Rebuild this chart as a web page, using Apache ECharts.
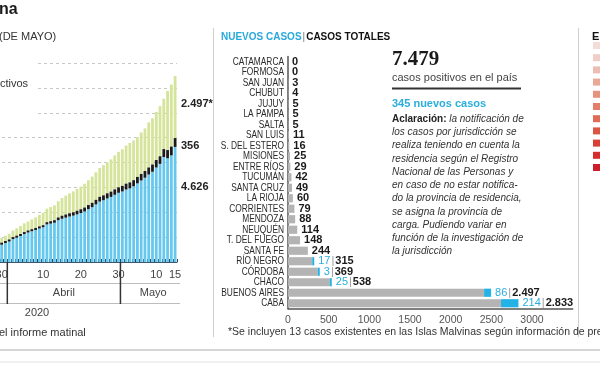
<!DOCTYPE html>
<html><head><meta charset="utf-8">
<script src="https://cdn.jsdelivr.net/npm/echarts@6/dist/echarts.min.js"></script>
<style>html,body{margin:0;padding:0;background:#fff;overflow:hidden}#c{width:600px;height:365px}</style>
</head><body><div id="c"></div>
<script>
// ---- Serie temporal (29/03 - 15/05/2020) ----
const dias = ['29/03','30/03','31/03','01/04','02/04','03/04','04/04','05/04','06/04','07/04','08/04','09/04','10/04','11/04','12/04','13/04','14/04','15/04','16/04','17/04','18/04','19/04','20/04','21/04','22/04','23/04','24/04','25/04','26/04','27/04','28/04','29/04','30/04','01/05','02/05','03/05','04/05','05/05','06/05','07/05','08/05','09/05','10/05','11/05','12/05','13/05','14/05','15/05'];
const activos = [577,696,763,824,921,977,1046,1122,1184,1237,1288,1348,1397,1510,1543,1578,1679,1738,1781,1828,1864,1913,1968,2031,2125,2204,2315,2428,2483,2553,2616,2702,2782,2835,2913,2960,3044,3160,3276,3387,3518,3627,3800,3945,4221,4171,4287,4626];
const fallecidos = [23,24,27,36,39,43,44,48,56,63,72,82,83,90,97,102,111,122,129,132,136,147,152,159,165,176,185,192,197,207,214,218,218,225,237,240,246,260,264,273,282,293,300,305,319,329,353,356];
const recuperados = [220,246,264,273,305,333,361,384,388,415,435,464,495,542,568,597,653,711,759,798,839,881,911,954,998,1055,1107,1160,1212,1243,1297,1365,1428,1472,1531,1583,1597,1600,1668,1711,1811,1856,1934,2015,2023,2379,2494,2497];
const diasEtiqueta = ['30/03','10/04','20/04','30/04','10/05','15/05'];
const meses = ['Abril','Mayo'];

// ---- Casos por jurisdicción ----
const provincias = ['CATAMARCA','FORMOSA','SAN JUAN','CHUBUT','JUJUY','LA PAMPA','SALTA','SAN LUIS','S. DEL ESTERO','MISIONES','ENTRE RÍOS','TUCUMÁN','SANTA CRUZ','LA RIOJA','CORRIENTES','MENDOZA','NEUQUÉN','T. DEL FUEGO','SANTA FE','RÍO NEGRO','CÓRDOBA','CHACO','BUENOS AIRES','CABA'];
const totales = [0,0,3,4,5,5,5,11,16,25,29,42,49,60,79,88,114,148,244,315,369,538,2497,2833];
const nuevos = [0,0,0,0,0,0,0,0,0,0,0,0,0,0,0,0,0,0,0,17,3,25,86,214];
const ejeCasos = [0,500,1000,1500,2000,2500,3000];

const fmt = n => String(n).replace(/\B(?=(\d{3})+(?!\d))/g, '.');
const SANS = '"Liberation Sans",Arial,sans-serif';
const BLUE1 = '#67c8ef', GREEN = '#d5e49b', BLK = '#1b1b1b';
const CYAN = '#22b2e6', GRAY = '#b4b4b4';

const chart = echarts.init(document.getElementById('c'), null, {renderer:'canvas'});

const baseProv = totales.map((t,i)=>t-nuevos[i]);

chart.setOption({
  animation:false,
  grid:[
    {left:-4, top:63, width:181, height:199, containLabel:false, outerBoundsMode:'none'},
    {left:288, top:56.5, width:284.7, height:252, containLabel:false, outerBoundsMode:'none'}
  ],
  xAxis:[
    {type:'category', gridIndex:0, data:dias, boundaryGap:true,
     axisLine:{show:true, lineStyle:{color:'#3d5770', width:1}},
     axisTick:{show:true, interval:0, inside:true, length:3, lineStyle:{color:'#2b3f55', width:1}},
     axisLabel:{interval:(i,v)=>diasEtiqueta.indexOf(v)>=0, formatter:v=>String(parseInt(v.split('/')[0],10)),
       color:'#444', fontSize:11, fontFamily:SANS, margin:7}},
    {type:'value', gridIndex:1, min:0, max:3500, interval:500,
     axisLine:{show:true, onZero:false, lineStyle:{color:'#555', width:1.5}},
     axisTick:{show:false}, splitLine:{show:false},
     axisLabel:{color:'#555', fontSize:10.5, fontFamily:SANS, margin:6,
       formatter:v=>ejeCasos.indexOf(v)>=0?String(v):''}}
  ],
  yAxis:[
    {type:'value', gridIndex:0, min:0, max:8000, interval:1000, axisLine:{show:false}, axisTick:{show:false},
     axisLabel:{show:false}, splitLine:{show:true, lineStyle:{color:'#c8c8c8', type:[3,3], width:1}}},
    {type:'category', gridIndex:1, data:provincias, inverse:true,
     axisLine:{show:true, lineStyle:{color:'#555', width:1.5}}, axisTick:{show:false},
     axisLabel:{show:false}}
  ],
  series:[
    {name:'Activos', type:'bar', stack:'ev', xAxisIndex:0, yAxisIndex:0, data:activos,
     itemStyle:{color:BLUE1}, barCategoryGap:'26%'},
    {name:'Fallecidos', type:'bar', stack:'ev', xAxisIndex:0, yAxisIndex:0, data:fallecidos,
     itemStyle:{color:BLK}, barMinHeight:2, z:4},
    {name:'Recuperados', type:'bar', stack:'ev', xAxisIndex:0, yAxisIndex:0, data:recuperados,
     itemStyle:{color:GREEN}},
    {name:'Base', type:'bar', stack:'pr', xAxisIndex:1, yAxisIndex:1, data:baseProv,
     itemStyle:{color:GRAY}, barCategoryGap:'22%',
     label:{show:true, position:'right', distance:4,
       formatter:p=>nuevos[p.dataIndex]>0?'':fmt(totales[p.dataIndex]),
       color:'#1a1a1a', fontWeight:'bold', fontSize:11, fontFamily:SANS}},
    {name:'Nuevos', type:'bar', stack:'pr', xAxisIndex:1, yAxisIndex:1,
     data:nuevos.map(v=>v>0?v:'-'), barMinHeight:2,
     itemStyle:{color:CYAN},
     label:{show:true, position:'right', distance:4,
       formatter:p=>'{n|'+nuevos[p.dataIndex]+'}{s||}{t|'+fmt(totales[p.dataIndex])+'}',
       rich:{n:{color:'#28aee0', fontSize:11, fontFamily:SANS},
             s:{color:'#999', fontSize:11, fontFamily:SANS, padding:[0,1,0,1]},
             t:{color:'#1a1a1a', fontWeight:'bold', fontSize:11, fontFamily:SANS}}}}
  ]
});

function T(x,y,text,font,fill,align,valign,extra,tr){
  const st = Object.assign({x:0,y:0,text:text,font:font,fill:fill,
    textAlign:align||'left', align:align||'left',
    textVerticalAlign:valign||'middle', verticalAlign:valign||'middle'}, extra||{});
  return Object.assign({type:'text', z:50, x:x, y:y, style:st, silent:true}, tr||{});
}
function L(x1,y1,x2,y2,color,w){
  return {type:'line', z:40, shape:{x1:x1,y1:y1,x2:x2,y2:y2}, style:{stroke:color, lineWidth:w||1}, silent:true};
}
const num = r => Array.isArray(r) ? r[0] : r;

// positions through the scales (category index)
const px = i => num(chart.convertToPixel({xAxisIndex:0}, i));
const iA = dias.indexOf('01/04'), iM = dias.indexOf('01/05');
const n = dias.length-1;
const div1 = (px(iA-1)+px(iA))/2;
const div2 = (px(iM-1)+px(iM))/2;
const xEnd = px(n) + 5;
const yv = v => { const r = chart.convertToPixel({yAxisIndex:0}, v); return Array.isArray(r)?r[1]:r; };
const base = yv(0);

const g = [];
// title fragments
g.push(T(-1,10,'na','bold 16px '+SANS,'#1a1a1a'));
g.push(T(-1,37,'(DE MAYO)','11px '+SANS,'#333'));
g.push({type:'rect', z:30, shape:{x:0,y:55,width:37,height:70}, style:{fill:'#fff'}, silent:true});
g.push(T(0,84,'ctivos','11px '+SANS,'#333'));
// end labels
g.push(T(181,yv(activos[n]+fallecidos[n]+recuperados[n])+28,'2.497*','bold 11px '+SANS,'#222'));
g.push(T(181,yv(activos[n]+fallecidos[n])+8,fmt(fallecidos[n]),'bold 11px '+SANS,'#222'));
g.push(T(181,187,fmt(activos[n]),'bold 11px '+SANS,'#222'));
// month row
g.push(L(0,283.5,xEnd,283.5,'#bdbdbd',1));
g.push(L(0,303.5,xEnd,303.5,'#bdbdbd',1));
g.push(L(div1,base,div1,304,'#333',1.5));
g.push(L(div2,base,div2,304,'#333',1.5));
g.push(T((div1+div2)/2,293,meses[0],'11px '+SANS,'#444','center'));
g.push(T((div2+xEnd)/2+3,293,meses[1],'11px '+SANS,'#444','center'));
g.push(T(37,313,'2020','11px '+SANS,'#444','center'));
g.push(T(-1,333,'el informe matinal','11px '+SANS,'#333'));
// panel borders
g.push(L(213.5,28,213.5,337,'#d0d0d0',1));
g.push(L(578.5,28,578.5,337,'#d0d0d0',1));
g.push(L(0,350,600,350,'#d6d6d6',2));
g.push(L(0,362,600,362,'#e2e2e2',1));
// province labels (condensed)
provincias.forEach((p,i)=>{
  const r = chart.convertToPixel({yAxisIndex:1}, i);
  const y = Array.isArray(r)?r[1]:r;
  g.push(T(284,y,p,'11px '+SANS,'#2a2a2a','right','middle',null,{scaleX:0.76}));
});
// middle title
g.push(T(221,37,'{a|NUEVOS CASOS}{b||}{c|CASOS TOTALES}','bold 10px '+SANS,'#111','left','middle',
  {rich:{a:{fill:'#29a9db', font:'bold 10px '+SANS}, b:{fill:'#777', font:'10px '+SANS, padding:[0,1,0,1]}, c:{fill:'#111', font:'bold 10px '+SANS}}}));
// text block
g.push(T(392,60,'7.479','bold 21px "Liberation Serif","DejaVu Serif",serif','#1a1a1a'));
g.push(T(392,78,'casos positivos en el país','11px '+SANS,'#444'));
g.push(L(392,88.5,521,88.5,'#333',2));
g.push(T(392,104,'345 nuevos casos','bold 11px '+SANS,'#2aaedc'));
const parr = ['la notificación de','los casos por jurisdicción se','realiza teniendo en cuenta la','residencia según el Registro','Nacional de las Personas y','en caso de no estar notifica-','do la provincia de residencia,','se asigna la provincia de','carga. Pudiendo variar en','función de la investigación de','la jurisdicción'];
parr.forEach((t,i)=>{
  const y = 119 + i*13.27;
  if(i===0){
    g.push(T(392,y,'{b|Aclaración:} {i|'+t+'}','italic 10px '+SANS,'#333','left','middle',
      {rich:{b:{font:'bold 10px '+SANS, fill:'#222'}, i:{font:'italic 10px '+SANS, fill:'#333'}}}));
  } else {
    g.push(T(392,y,t,'italic 10px '+SANS,'#333'));
  }
});
// footnote
g.push(T(228,332,'*Se incluyen 13 casos existentes en las Islas Malvinas según información de prensa','10.5px '+SANS,'#333'));
// right panel fragment
g.push(T(592,37,'E','bold 11px '+SANS,'#111'));
const reds = ['#f3ddd9','#f0cec7','#edbcb2','#eaa898','#e7927f','#e37f69','#df6a55','#db5444','#d83f35','#d42d2b','#cc1f2b'];
reds.forEach((c,i)=>g.push({type:'rect', z:40, shape:{x:593,y:42+i*12.2,width:7,height:7}, style:{fill:c}, silent:true}));

chart.setOption({graphic:g});
</script></body></html>
